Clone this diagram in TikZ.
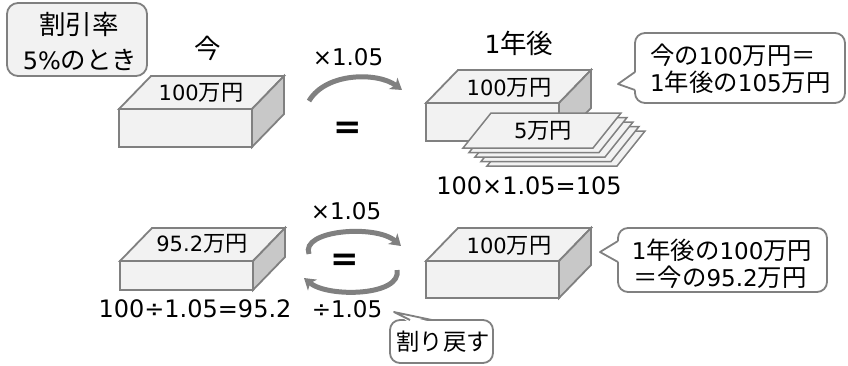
\documentclass[tikz,border=0pt]{standalone}
\usepackage{fontspec}
\setmainfont{DejaVu Sans}
\newfontfamily\jp{Noto Sans CJK JP}[Scale=1.06]
\usetikzlibrary{arrows.meta}

\definecolor{edge}{HTML}{808080}
\definecolor{face}{HTML}{F2F2F2}
\definecolor{side}{HTML}{C8C8C8}

% Japanese run inside Latin text
\newcommand\J[1]{{\jp #1}}

% cash block: #1,#2 = front top-left corner, #3 = front height
\newcommand\moneybox[3]{%
  \filldraw[facefill] (#1,#2) rectangle ++(133,#3);
  \filldraw[facefill] (#1,#2) -- ++(32,-33) -- ++(133,0) -- ++(-32,33) -- cycle;
  \filldraw[sidefill] (#1+133,#2) -- ++(32,-33) -- ++(0,#3) -- ++(-32,33) -- cycle;
}
% single note: #1,#2 = bottom-left corner
\newcommand\banknote[2]{%
  \filldraw[notefill] (#1,#2) -- ++(130,0) -- ++(28,-35) -- ++(-130,0) -- cycle;
}

\tikzset{
  every node/.style={inner sep=0pt, text=black},
  facefill/.style={draw=edge, fill=face, line width=1.8pt, line join=miter},
  sidefill/.style={draw=edge, fill=side, line width=1.8pt, line join=miter},
  notefill/.style={draw=edge, fill=face, line width=1.5pt, line join=miter},
  bubble/.style={draw=edge, fill=white, line width=1.8pt, rounded corners=10pt},
  tail/.style={draw=edge, line width=1.8pt, line join=round},
  turn/.style={draw=edge, line width=5pt,
    -{Stealth[width=14pt,length=11pt,inset=3pt]}},
  lbl/.style={font=\fontsize{23}{27}\selectfont},
  calc/.style={font=\fontsize{24}{28}\selectfont},
  head/.style={font=\fontsize{25}{30}\selectfont},
  boxlbl/.style={font=\fontsize{21}{25}\selectfont},
  eqsign/.style={font=\bfseries\fontsize{34}{34}\selectfont},
}

\begin{document}
\begin{tikzpicture}[x=1pt, y=-1pt]
\useasboundingbox (0,0) rectangle (848,365);

% ---- condition tag ----
\filldraw[bubble, fill=face, rounded corners=11pt] (7,3) rectangle (147,76);
\node[font=\fontsize{25}{30}\selectfont] (rateA) at (79,24) {\J{割引率}};
\node[font=\fontsize{24}{28}\selectfont] (rateB) at (80,60) {5\%\J{のとき}};

% ---- column headings ----
\node[head] (now) at (208,48) {\J{今}};
\node[head] (later) at (519,43) {1\J{年後}};

% ---- upper row: present block ----
\moneybox{119}{109}{38}
\node[boxlbl] (p1) at (201,93) {100\J{万円}};

% ---- upper row: future block with interest notes ----
\moneybox{426}{103}{38}
\node[boxlbl] (f1) at (509,88) {100\J{万円}};
\foreach \k in {4,3,2,1,0} {\banknote{463+6*\k}{148+4.5*\k}}
\node[boxlbl] (n1) at (543,131) {5\J{万円}};
\node[calc] (calc1) at (529,186) {100×1.05=105};

% ---- upper row: compounding arrow ----
\node[lbl] (m1) at (348,57) {×1.05};
\coordinate (a1s) at (309,101);
\coordinate (a1e) at (402,90);
\draw[turn] (a1s) .. controls (326,72) and (378,72) .. (a1e);
\node[eqsign] (eq1) at (348,130) {=};

% ---- upper speech bubble ----
\filldraw[bubble] (635,33) rectangle (845,103);
\fill[white] (619,84) -- (637.5,71) -- (637.5,91) -- cycle;
\draw[tail] (635,72) -- (618,84) -- (635,90);
\node[lbl, anchor=west] (s1a) at (650,55) {\J{今の}100\J{万円＝}};
\node[lbl, anchor=west] (s1b) at (650,82) {1\J{年後の}105\J{万円}};

% ---- lower row: discounted block ----
\moneybox{120}{261}{29}
\node[boxlbl] (p2) at (202,244) {95.2\J{万円}};
\node[calc] (calc2) at (195,309) {100÷1.05=95.2};

% ---- lower row: future block ----
\moneybox{426}{261}{37}
\node[boxlbl] (f2) at (509,246) {100\J{万円}};

% ---- lower row: two-way arrows ----
\node[lbl] (m2) at (346,211) {×1.05};
\node[lbl] (d2) at (347,309) {÷1.05};
\coordinate (a2s) at (309,254);
\coordinate (a2e) at (401,246);
\coordinate (a3s) at (397,270);
\coordinate (a3e) at (304,278);
\draw[turn] (a2s) .. controls (300,230) and (376,224) .. (a2e);
\draw[turn] (a3s) .. controls (402,296) and (328,298) .. (a3e);
\node[eqsign] (eq2) at (345,262) {=};

% ---- lower speech bubble ----
\filldraw[bubble] (618,228) rectangle (827,292);
\fill[white] (601,252) -- (620.5,240) -- (620.5,263) -- cycle;
\draw[tail] (618,241) -- (600,252) -- (618,262);
\node[lbl] (s2a) at (722,250) {1\J{年後の}100\J{万円}};
\node[lbl] (s2b) at (720,277) {\J{＝今の}95.2\J{万円}};

% ---- note on the reverse step ----
\filldraw[bubble] (390,320) rectangle (493,363);
\fill[white] (396,313) -- (409,322.5) -- (433,322.5) -- cycle;
\draw[tail] (410,320) -- (394,312) -- (432,320);
\node[font=\fontsize{22}{26}\selectfont] (back) at (443,342) {\J{割り戻す}};

\end{tikzpicture}
\end{document}
